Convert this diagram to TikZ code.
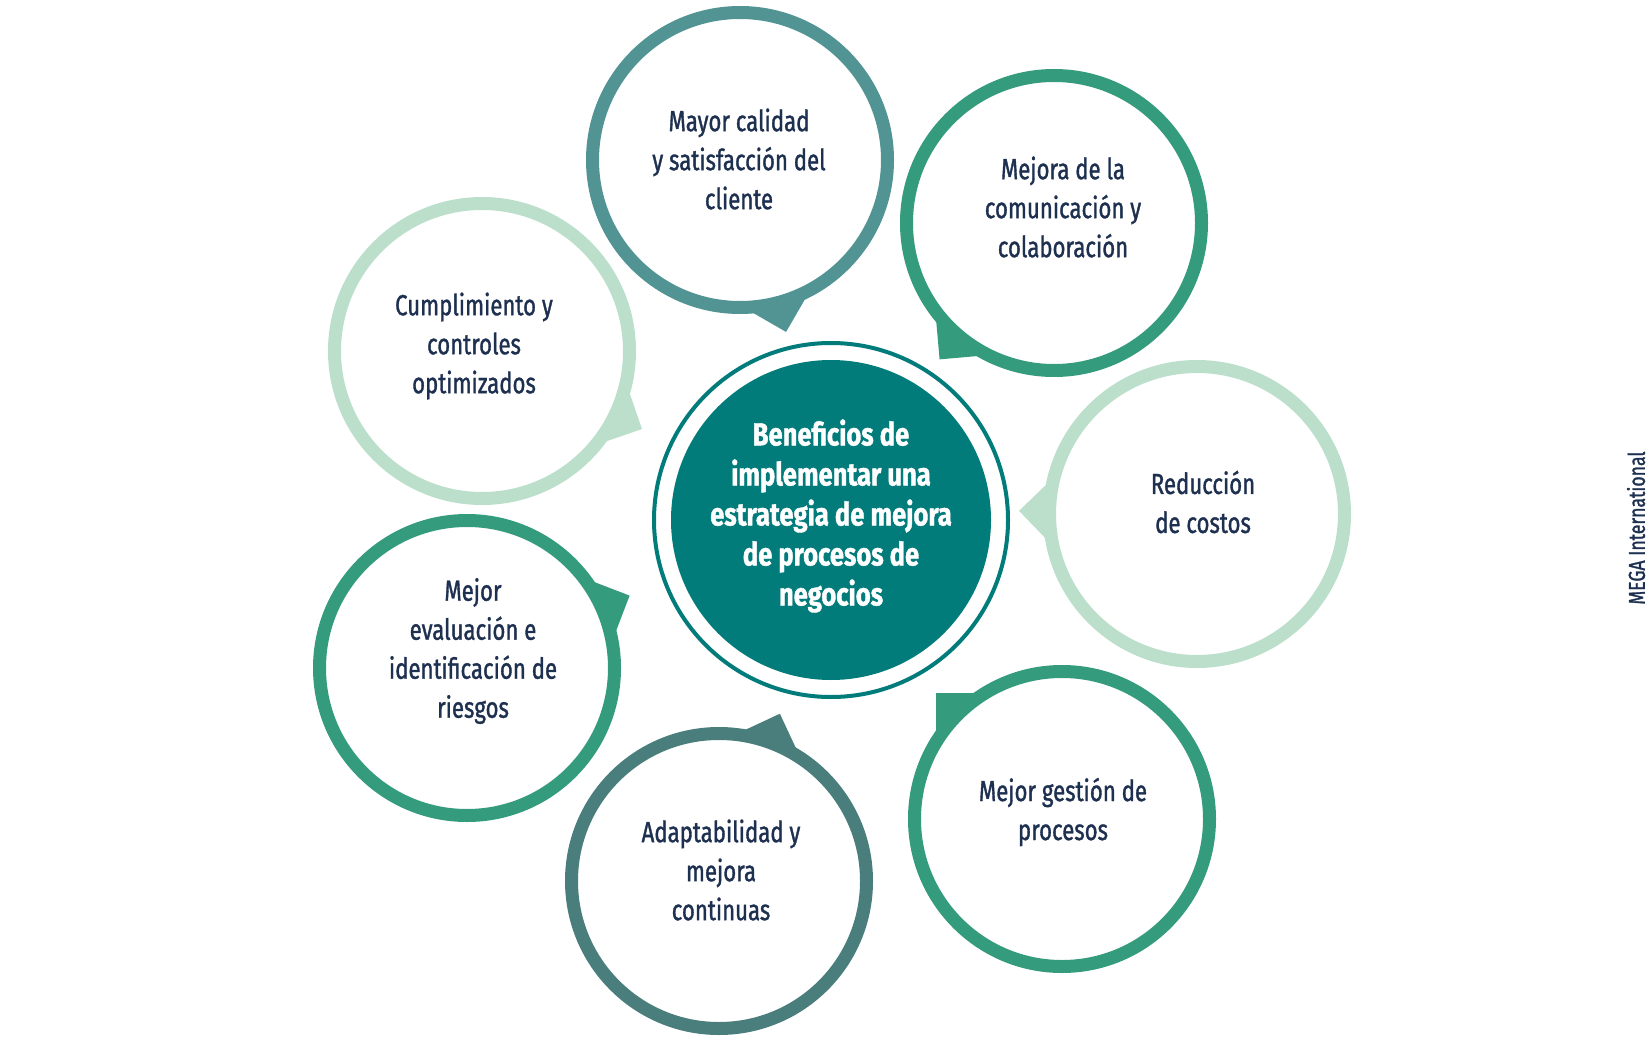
\documentclass[tikz,border=0pt]{standalone}
\usepackage{fontspec}
\setmainfont[FakeStretch=0.765, FakeBold=1.2, BoldFeatures={FakeStretch=0.8}]{Fira Sans}
\usetikzlibrary{calc}
\definecolor{txt}{HTML}{1E3050}
\definecolor{cTeal}{HTML}{529393}
\definecolor{cGreen}{HTML}{359B7D}
\definecolor{cLight}{HTML}{BBDFCB}
\definecolor{cSlate}{HTML}{4A7E7C}
\definecolor{cCore}{HTML}{027B7B}
\newcommand\drawbubble[5]{%
  \fill[#4] ($(#2,#3)+(#5:178pt)$) -- ($(#2,#3)+(#5+13.6:147.5pt)$) -- ($(#2,#3)+(#5-13.6:147.5pt)$) -- cycle;
  \node[bubble, draw=#4] (#1) at (#2,#3) {};
}
\begin{document}
\begin{tikzpicture}[x=1pt,y=-1pt,
  bubble/.style={circle, line width=13pt, fill=white, minimum size=295pt, inner sep=0pt},
  lbl/.style={align=center, text=txt, font=\fontsize{29}{39}\selectfont},
  corelbl/.style={align=center, text=white, font=\bfseries\fontsize{32}{40}\selectfont}]
\useasboundingbox (0,0) rectangle (1650,1038);
\drawbubble{calidad}{740}{160}{cTeal}{-75}
\drawbubble{mejora}{1054}{223}{cGreen}{-130}
\drawbubble{cumpl}{482}{351}{cLight}{-26}
\drawbubble{reduc}{1197}{514}{cLight}{179}
\drawbubble{evalu}{467}{668}{cGreen}{24}
\drawbubble{adapt}{719}{881}{cSlate}{70}
\drawbubble{gestion}{1062}{819}{cGreen}{135}
\node[circle, draw=cCore, line width=4pt, minimum size=354pt, inner sep=0pt] (ring) at (831,520) {};
\node[circle, fill=cCore, minimum size=320pt, inner sep=0pt] (core) at (831,520) {};
\node[corelbl] (tcore) at (831,516) {Beneficios de\\implementar una\\estrategia de mejora\\de procesos de\\negocios};
\node[lbl] (tcalidad) at (739,159) {Mayor calidad\\y satisfacción del\\cliente};
\node[lbl] (tmejora) at (1063,207) {Mejora de la\\comunicación y\\colaboración};
\node[lbl] (tcumpl) at (474,346) {Cumplimiento y\\controles\\optimizados};
\node[lbl] (treduc) at (1203,502) {Reducción\\de costos};
\node[lbl] (tevalu) at (473,651) {Mejor\\evaluación e\\identificación de\\riesgos};
\node[lbl] (tadapt) at (721,870) {Adaptabilidad y\\mejora\\continuas};
\node[lbl] (tgestion) at (1063,812) {Mejor gestión de\\procesos};
\node[rotate=90, text=txt, font=\fontsize{23}{26}\selectfont] (mega) at (1636,528) {MEGA International};
\end{tikzpicture}
\end{document}
